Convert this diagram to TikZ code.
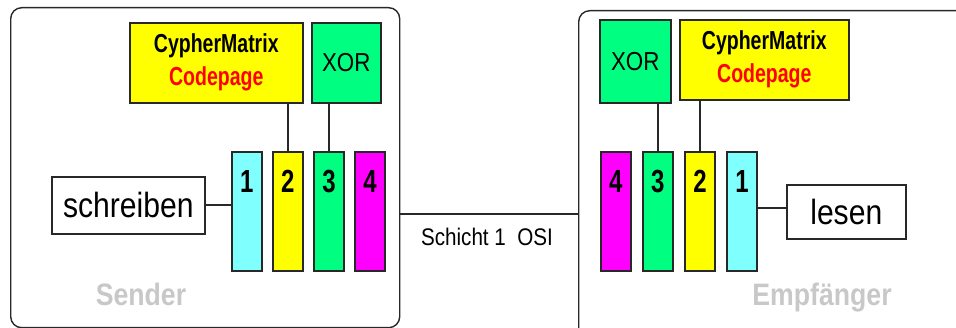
\documentclass[tikz,border=0pt]{standalone}
\usepackage{fontspec}
\setmainfont{Liberation Sans}
\newfontfamily\narrowfont[FakeStretch=0.86]{Liberation Sans}
\newfontfamily\slimfont[FakeStretch=0.75]{Liberation Sans}
\usetikzlibrary{positioning}
\definecolor{barCyan}{RGB}{128,255,255}
\definecolor{barYellow}{RGB}{255,255,0}
\definecolor{barGreen}{RGB}{0,255,128}
\definecolor{barMagenta}{RGB}{255,0,255}
\definecolor{sideGray}{RGB}{200,200,200}
\definecolor{lineGray}{RGB}{40,40,40}

\begin{document}
\begin{tikzpicture}[
    x=1pt, y=-1pt,
    node distance=9.5pt,
    sideBox/.style={
        rectangle, draw=lineGray, line width=1.4pt,
        rounded corners=11pt,
        anchor=north west, inner sep=0pt
    },
    sideLabel/.style={
        anchor=base, inner sep=0pt, text=sideGray,
        font=\narrowfont\bfseries\fontsize{31}{31}\selectfont
    },
    toolBox/.style={
        rectangle, draw=lineGray, line width=1.6pt,
        anchor=north west, inner sep=0pt, align=center,
        minimum height=80pt
    },
    cipherFont/.style={font=\slimfont\bfseries\fontsize{26}{33}\selectfont},
    xorFont/.style={font=\narrowfont\fontsize{26}{26}\selectfont},
    layerBar/.style={
        rectangle, draw=lineGray, line width=1.6pt, inner sep=0pt,
        minimum width=30pt, text height=41pt, text depth=78pt,
        font=\slimfont\bfseries\fontsize{32}{32}\selectfont
    },
    ioBox/.style={
        rectangle, draw=lineGray, line width=1.6pt, fill=white,
        anchor=north west, inner sep=0pt,
        font=\narrowfont\fontsize{35}{35}\selectfont
    },
    osiLabel/.style={
        anchor=base, inner sep=0pt,
        font=\narrowfont\fontsize{24}{24}\selectfont
    },
    link/.style={draw=lineGray, line width=1.6pt}
]
\useasboundingbox (0,0) rectangle (956,328);
\clip (0,0) rectangle (956,328);

\node[sideBox, minimum width=389pt, minimum height=320pt] (sender) at (10,7) {};
\node[sideBox, minimum width=400pt, minimum height=330pt] (empf) at (578,10) {};
\node[sideLabel] (senderLbl) at (141,306) {Sender};
\node[sideLabel] (empfLbl) at (822,306) {Empfänger};

\node[toolBox, cipherFont, minimum width=173pt, fill=barYellow] (cmL) at (129,22) {CypherMatrix\\\textcolor{red}{Codepage}};
\node[toolBox, xorFont, minimum width=69pt, fill=barGreen] (xorL) at (311,22) {XOR};
\node[layerBar, fill=barCyan, anchor=north west] (bar1L) at (231,151) {1};
\node[layerBar, fill=barYellow, right=of bar1L] (bar2L) {2};
\node[layerBar, fill=barGreen, right=of bar2L] (bar3L) {3};
\node[layerBar, fill=barMagenta, right=of bar3L] (bar4L) {4};
\node[ioBox, minimum width=153pt, minimum height=57pt] (schreiben) at (51,176) {schreiben};

\node[toolBox, xorFont, minimum width=71pt, minimum height=83pt, fill=barGreen] (xorR) at (599,19) {XOR};
\node[toolBox, cipherFont, minimum width=169pt, fill=barYellow] (cmR) at (679,19) {CypherMatrix\\\textcolor{red}{Codepage}};
\node[layerBar, fill=barMagenta, anchor=north west] (bar4R) at (600,151) {4};
\node[layerBar, fill=barGreen, right=10.5pt of bar4R] (bar3R) {3};
\node[layerBar, fill=barYellow, right=10.5pt of bar3R] (bar2R) {2};
\node[layerBar, fill=barCyan, right=10.5pt of bar2R] (bar1R) {1};
\node[ioBox, minimum width=119pt, minimum height=54pt] (lesen) at (786,184) {lesen};

\coordinate (osi) at (488,214);
\node[osiLabel] (osiLbl) at (487,246) {Schicht 1~~OSI};

\draw[link] (schreiben.east) -- (schreiben.east -| bar1L.west);
\draw[link] (cmL.south -| bar2L.north) -- (bar2L.north);
\draw[link] (xorL.south -| bar3L.north) -- (bar3L.north);
\draw[link] (xorR.south -| bar3R.north) -- (bar3R.north);
\draw[link] (cmR.south -| bar2R.north) -- (bar2R.north);
\draw[link] ([yshift=4pt]lesen.west) -- ([yshift=4pt]lesen.west -| bar1R.east);
\draw[link] (osi -| sender.east) -- (osi -| empf.west);
\end{tikzpicture}
\end{document}
